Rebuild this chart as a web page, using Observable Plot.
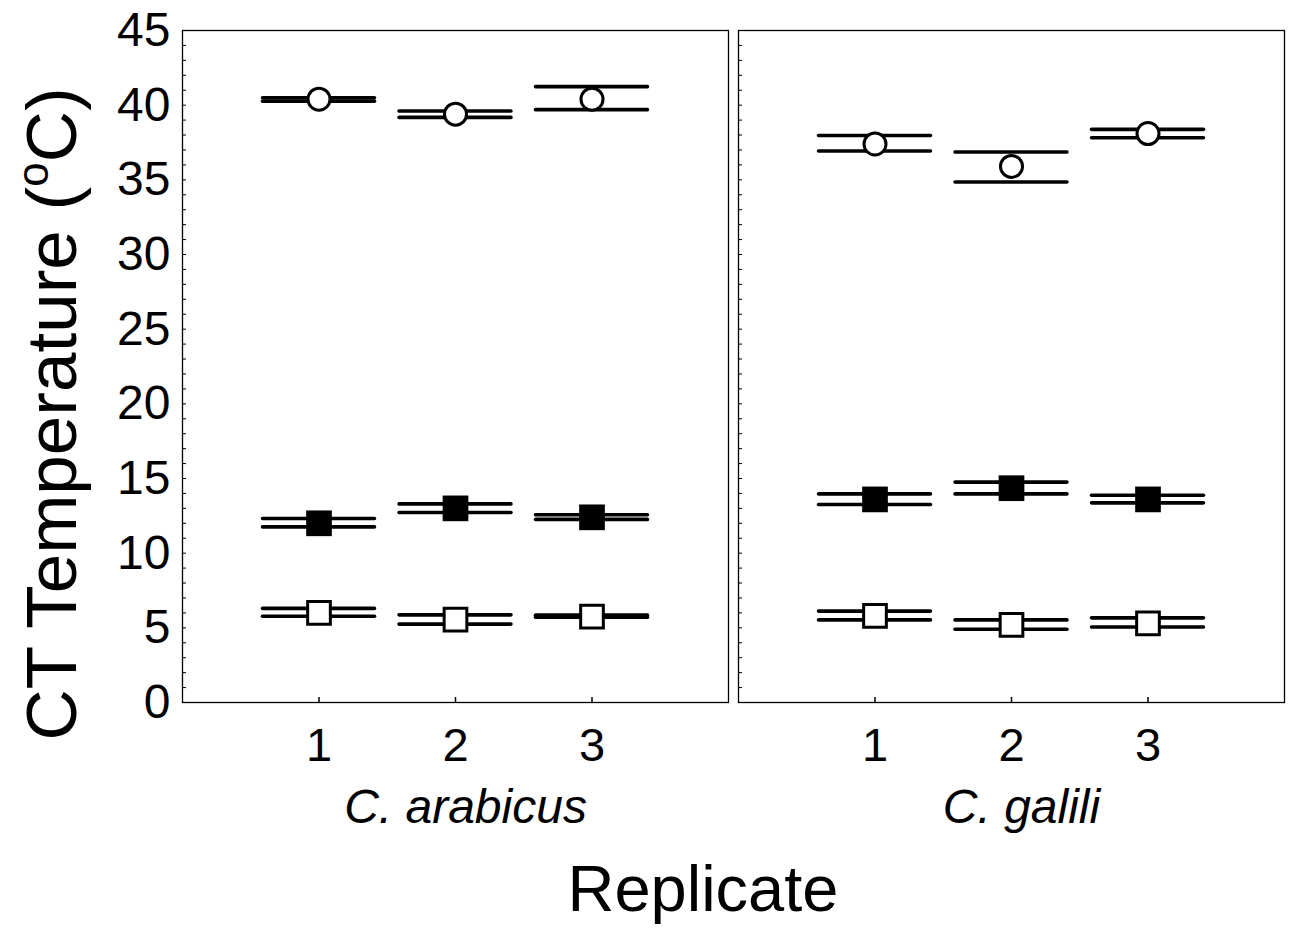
<!DOCTYPE html>
<html><head><meta charset="utf-8">
<script src="https://cdn.jsdelivr.net/npm/d3@7"></script>
<script src="https://cdn.jsdelivr.net/npm/@observablehq/plot@0.6"></script>
<style>body{margin:0;background:#fff;}</style>
</head><body><div id="chart"></div>
<script>
const species = ["C. arabicus", "C. galili"];
const replicates = [1, 2, 3];
// order: C. arabicus reps 1-3, then C. galili reps 1-3
const circleMean = [40.4, 39.4, 40.4, 37.4, 35.9, 38.1];
const circleLow  = [40.27, 39.18, 39.70, 36.93, 34.85, 37.82];
const circleHigh = [40.50, 39.61, 41.24, 37.97, 36.86, 38.38];
const filledMean = [12.0, 13.0, 12.4, 13.6, 14.35, 13.6];
const filledLow  = [11.76, 12.72, 12.26, 13.26, 13.97, 13.37];
const filledHigh = [12.32, 13.30, 12.57, 13.97, 14.76, 13.88];
const openSqMean = [6.0, 5.55, 5.75, 5.8, 5.2, 5.3];
const openSqLow  = [5.78, 5.25, 5.71, 5.53, 4.91, 5.06];
const openSqHigh = [6.30, 5.87, 5.85, 6.12, 5.53, 5.67];
const yTickLabels = [0, 5, 10, 15, 20, 25, 30, 35, 40, 45];
const yMinorTicks = d3.range(0, 46, 1);
const xTicks = [1, 2, 3];

function build(means, lows, highs, kind) {
  const out = [];
  species.forEach((s, si) => replicates.forEach((r, ri) => {
    const i = si * replicates.length + ri;
    out.push({species: s, rep: r, mean: means[i], low: lows[i], high: highs[i], kind});
  }));
  return out;
}
const circles = build(circleMean, circleLow, circleHigh, "circle");
const filled = build(filledMean, filledLow, filledHigh, "filled");
const openSq = build(openSqMean, openSqLow, openSqHigh, "open");
const all = [...circles, ...filled, ...openSq];

const hw = 0.41;
const lineOpts = {x1: d => d.rep - hw, x2: d => d.rep + hw, fx: "species", stroke: "black", strokeWidth: 3.6, strokeLinecap: "round"};

const chart = Plot.plot({
  width: 1289, height: 938,
  marginTop: 30, marginBottom: 236, marginLeft: 182, marginRight: 5,
  style: {fontFamily: "'Liberation Sans', Arial, sans-serif", color: "black", background: "white"},
  x: {domain: [0, 4]},
  y: {domain: [0, 45]},
  fx: {domain: species, paddingInner: 0.018, paddingOuter: 0, axis: null},
  marks: [
    Plot.frame({stroke: "black", strokeWidth: 1.3}),
    Plot.axisY({ticks: yMinorTicks, tickSize: -4, fill: "none", stroke: "black", strokeWidth: 1, facetAnchor: null}),
    Plot.axisY({ticks: yTickLabels, tickSize: 0, tickPadding: 12, fontSize: 48, label: null, tickFormat: d => String(d)}),
    Plot.axisX({ticks: xTicks, tickSize: -5, fill: "none", stroke: "black", strokeWidth: 1.5}),
    Plot.axisX({ticks: xTicks, tickSize: 0, tickPadding: 25, fontSize: 47, label: null, tickFormat: d => String(d)}),
    Plot.text(species, {fx: d => d, text: d => d, frameAnchor: "bottom", lineAnchor: "middle", dy: 105, dx: 10, fontSize: 48, fontStyle: "italic", fill: "black"}),
    Plot.ruleY(all, {...lineOpts, y: "low"}),
    Plot.ruleY(all, {...lineOpts, y: "high"}),
    Plot.dot(circles, {x: "rep", y: "mean", fx: "species", r: 11, fill: "white", stroke: "black", strokeWidth: 3}),
    Plot.dot(filled, {x: "rep", y: "mean", fx: "species", symbol: "square", r: 14.5, fill: "black", stroke: "none"}),
    Plot.dot(openSq, {x: "rep", y: "mean", fx: "species", symbol: "square", r: 12.8, fill: "white", stroke: "black", strokeWidth: 3})
  ]
});

const svg = d3.select(chart);
const yl = svg.append("text")
  .attr("transform", "translate(76,414) rotate(-90)")
  .attr("text-anchor", "middle")
  .attr("font-size", 71)
  .attr("fill", "black");
yl.append("tspan").text("CT Temperature (");
yl.append("tspan").attr("font-size", 44).attr("dy", -28).text("o");
yl.append("tspan").attr("dy", 28).text("C)");

svg.append("text")
  .attr("x", 703).attr("y", 911)
  .attr("text-anchor", "middle")
  .attr("font-size", 65)
  .attr("fill", "black")
  .text("Replicate");

document.getElementById("chart").appendChild(chart);
</script>
</body></html>
